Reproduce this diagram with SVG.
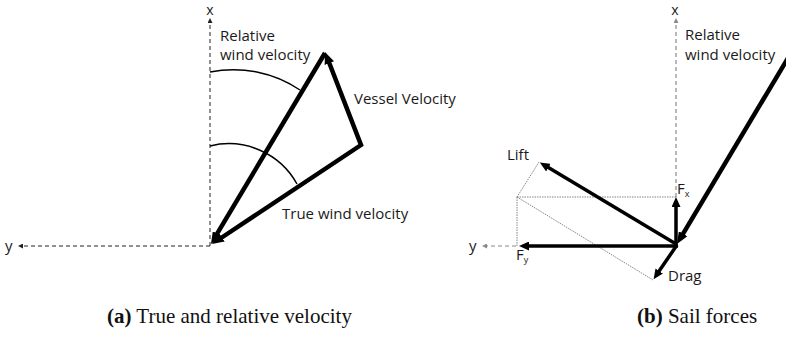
<svg xmlns="http://www.w3.org/2000/svg" width="786" height="337" viewBox="0 0 786 337">
<style>
.lbl{font-family:"Open Sans","Liberation Sans",sans-serif;font-size:15px;fill:#1a1a1a}
.axl{font-family:"Open Sans","Liberation Sans",sans-serif;font-size:14px;fill:#1a1a1a}
.sub{font-size:9px}
.cap{font-family:"Liberation Serif","Times New Roman",serif;font-size:21px;fill:#111}
.axis{stroke:#222;stroke-width:1;stroke-dasharray:4 3;fill:none}
.axisg{stroke:#8a8a8a;stroke-width:1.2;stroke-dasharray:4 3;fill:none}
.thick{stroke:#000;stroke-width:4.5;fill:none;stroke-linejoin:miter}
.med{stroke:#000;stroke-width:3.5;fill:none}
.dot{stroke:#777;stroke-width:0.9;stroke-dasharray:1.5 1;fill:none}
.arc{stroke:#000;stroke-width:1.5;fill:none}
</style>
<defs>
<marker id="ah" viewBox="0 0 12 10" refX="2" refY="5" markerWidth="12" markerHeight="10" markerUnits="userSpaceOnUse" orient="auto-start-reverse"><path d="M0,0 L12,5 L0,10 z" fill="#000"/></marker>
<marker id="ahm" viewBox="0 0 10 9" refX="2" refY="4.5" markerWidth="10" markerHeight="9" markerUnits="userSpaceOnUse" orient="auto"><path d="M0,0 L10,4.5 L0,9 z" fill="#000"/></marker>
<marker id="ax" viewBox="0 0 5 5" refX="1" refY="2.5" markerWidth="5" markerHeight="5" markerUnits="userSpaceOnUse" orient="auto"><path d="M0,0 L5,2.5 L0,5 z" fill="#222"/></marker>
<marker id="axg" viewBox="0 0 5 5" refX="1" refY="2.5" markerWidth="5" markerHeight="5" markerUnits="userSpaceOnUse" orient="auto"><path d="M0,0 L5,2.5 L0,5 z" fill="#8a8a8a"/></marker>
</defs>

<g id="panel-a">
  <g id="axes-a">
    <line class="axis" x1="210" y1="246" x2="210" y2="22" marker-end="url(#ax)"/>
    <line class="axis" x1="210" y1="246" x2="22" y2="246" marker-end="url(#ax)"/>
    <text class="axl" x="210" y="15" text-anchor="middle">x</text>
    <text class="lbl" x="5" y="251">y</text>
  </g>
  <g id="angles-a">
    <path class="arc" d="M210,72 A119,119 0 0 1 300,90"/>
    <path class="arc" d="M210,146 A78,78 0 0 1 297,184"/>
  </g>
  <g id="connectors-a">
    <line id="relative-wind-a" class="thick" x1="325" y1="53" x2="216.1" y2="235.4" marker-end="url(#ah)"/>
    <path id="vessel-true" class="thick" d="M328.6,61.3 L361,145 L220.3,238.5" marker-start="url(#ah)" marker-end="url(#ah)"/>
  </g>
  <g id="labels-a">
    <text class="lbl" x="220" y="41">Relative</text>
    <text class="lbl" x="220" y="60">wind velocity</text>
    <text class="lbl" x="354" y="104">Vessel Velocity</text>
    <text class="lbl" x="282" y="219">True wind velocity</text>
  </g>
  <text id="caption-a" class="cap" x="107" y="323"><tspan font-weight="bold">(a)</tspan> True and relative velocity</text>
</g>

<g id="panel-b">
  <g id="axes-b">
    <line class="axisg" x1="676" y1="197" x2="676" y2="22" marker-end="url(#axg)"/>
    <line class="axisg" x1="516" y1="246" x2="486" y2="246" marker-end="url(#axg)"/>
    <text class="axl" x="675" y="15" text-anchor="middle">x</text>
    <text class="lbl" x="469" y="251">y</text>
  </g>
  <g id="construction-b">
    <line class="dot" x1="539" y1="162" x2="517" y2="197"/>
    <line class="dot" x1="517" y1="197" x2="676" y2="197"/>
    <line class="dot" x1="517" y1="197" x2="517" y2="246"/>
    <line class="dot" x1="517" y1="197" x2="653" y2="280"/>
  </g>
  <g id="connectors-b">
    <line id="relative-wind-b" class="thick" x1="791" y1="53" x2="682.1" y2="235.4" marker-end="url(#ah)"/>
    <line id="lift" class="med" x1="676" y1="244" x2="546.7" y2="166.6" marker-end="url(#ahm)"/>
    <line id="fy" class="med" x1="678" y1="246" x2="527" y2="246" marker-end="url(#ahm)"/>
    <line id="fx" class="med" x1="676" y1="247" x2="676" y2="205" marker-end="url(#ahm)"/>
    <line id="drag" class="med" x1="677" y1="245" x2="658.1" y2="272.6" marker-end="url(#ahm)"/>
  </g>
  <g id="labels-b">
    <text class="lbl" x="685" y="40">Relative</text>
    <text class="lbl" x="685" y="60">wind velocity</text>
    <text class="lbl" x="507" y="160">Lift</text>
    <text class="lbl" x="677" y="194">F<tspan class="sub" dy="3">x</tspan></text>
    <text class="lbl" x="516" y="260">F<tspan class="sub" dy="3">y</tspan></text>
    <text class="lbl" x="668" y="281">Drag</text>
  </g>
  <text id="caption-b" class="cap" x="637" y="323"><tspan font-weight="bold">(b)</tspan> Sail forces</text>
</g>
</svg>
